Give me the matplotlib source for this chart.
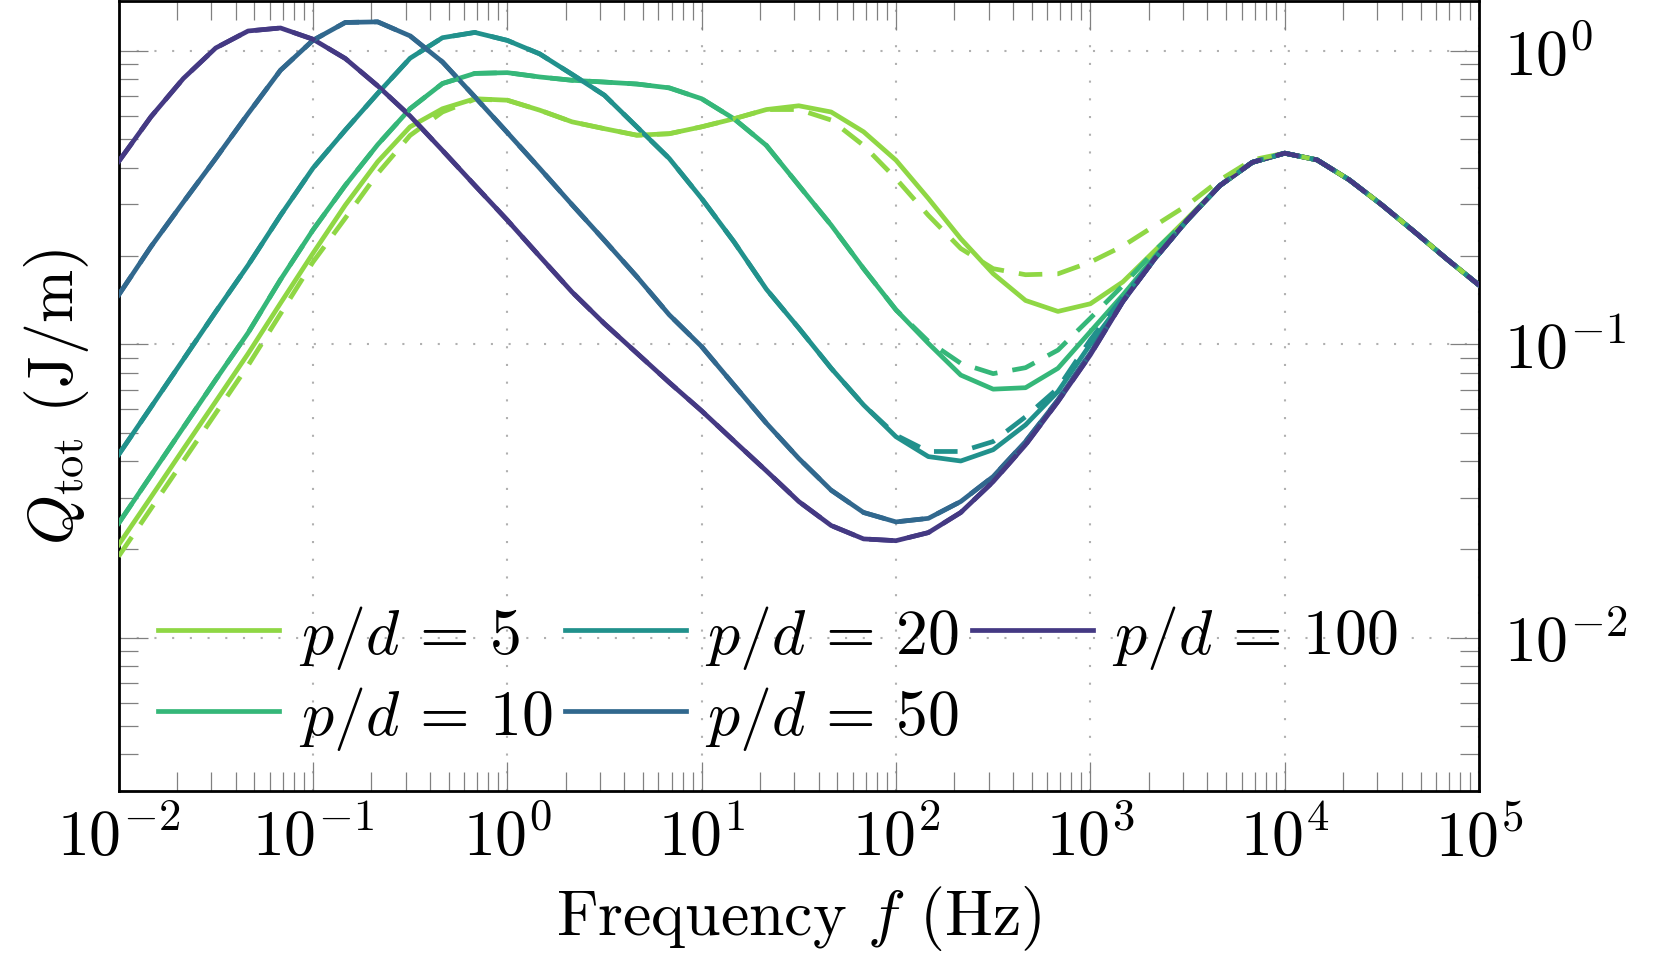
import numpy as np
import matplotlib
matplotlib.use("Agg")
import matplotlib.pyplot as plt
from matplotlib.ticker import LogLocator, NullFormatter

plt.rcParams.update({
    "font.family": "serif",
    "font.serif": ["cmr10"],
    "mathtext.fontset": "cm",
    "axes.formatter.use_mathtext": True,
    "axes.unicode_minus": False,
})

# frequency grid (Hz): 6 samples per decade, 1e-2 .. 1e5
freq = np.logspace(-2, 5, 43)

ratios = ["5", "10", "20", "50", "100"]
colors = ["#8fd744", "#35b779", "#21918c", "#31688e", "#443983"]

# solid curves, Q_tot (J/m)
q5 = [0.0207, 0.0301, 0.0439, 0.0638, 0.0929, 0.138, 0.204, 0.298, 0.419, 0.551,
      0.635, 0.687, 0.679, 0.628, 0.573, 0.543, 0.516, 0.522, 0.551, 0.587,
      0.631, 0.650, 0.619, 0.530, 0.424, 0.314, 0.229, 0.174, 0.141, 0.1294,
      0.1374, 0.163, 0.209, 0.269, 0.3475, 0.417, 0.448, 0.425, 0.363, 0.2985,
      0.242, 0.1954, 0.159]
q10 = [0.0245, 0.0357, 0.0520, 0.0757, 0.1094, 0.166, 0.245, 0.348, 0.479, 0.635,
       0.774, 0.838, 0.843, 0.815, 0.794, 0.783, 0.771, 0.748, 0.687, 0.587,
       0.476, 0.348, 0.2547, 0.181, 0.131, 0.1007, 0.0785, 0.0703, 0.0711, 0.0828,
       0.1104, 0.147, 0.1995, 0.2655, 0.3475, 0.417, 0.448, 0.425, 0.363, 0.2985,
       0.242, 0.1954, 0.159]
q20 = [0.0420, 0.0610, 0.0887, 0.129, 0.186, 0.275, 0.398, 0.537, 0.716, 0.944,
       1.109, 1.156, 1.086, 0.977, 0.832, 0.706, 0.551, 0.430, 0.314, 0.2234,
       0.154, 0.1135, 0.0828, 0.0621, 0.0484, 0.0414, 0.0400, 0.0437, 0.0531, 0.0690,
       0.100, 0.141, 0.1963, 0.2655, 0.3475, 0.417, 0.448, 0.425, 0.363, 0.2985,
       0.242, 0.1954, 0.159]
q50 = [0.147, 0.215, 0.305, 0.430, 0.611, 0.859, 1.086, 1.250, 1.256, 1.125,
       0.917, 0.697, 0.527, 0.398, 0.299, 0.226, 0.170, 0.126, 0.0982, 0.0726,
       0.0538, 0.0408, 0.0318, 0.0267, 0.0248, 0.0255, 0.0291, 0.0354, 0.0466, 0.0646,
       0.0933, 0.140, 0.1963, 0.2655, 0.3475, 0.417, 0.448, 0.425, 0.363, 0.2985,
       0.242, 0.1954, 0.159]
q100 = [0.419, 0.596, 0.805, 1.023, 1.169, 1.197, 1.096, 0.942, 0.760, 0.600,
        0.458, 0.348, 0.265, 0.1995, 0.1507, 0.1175, 0.0933, 0.0741, 0.0593, 0.0468,
        0.0370, 0.0291, 0.0241, 0.0217, 0.0214, 0.0228, 0.0267, 0.0340, 0.0454, 0.0638,
        0.0920, 0.1396, 0.1963, 0.2655, 0.3475, 0.417, 0.448, 0.425, 0.363, 0.2985,
        0.242, 0.1954, 0.159]

# dashed curves (second model), Q_tot (J/m)
q5_dash = [0.0189, 0.0275, 0.0400, 0.0582, 0.0847, 0.127, 0.1905, 0.269, 0.382, 0.515,
           0.619, 0.684, 0.679, 0.628, 0.573, 0.543, 0.516, 0.522, 0.551, 0.587,
           0.631, 0.631, 0.581, 0.476, 0.367, 0.275, 0.212, 0.181, 0.1726, 0.1738,
           0.1905, 0.216, 0.254, 0.2985, 0.363, 0.425, 0.448, 0.425, 0.363, 0.2985,
           0.242, 0.1954, 0.159]
q10_dash = [0.0245, 0.0357, 0.0520, 0.0757, 0.1094, 0.166, 0.245, 0.348, 0.479, 0.635,
            0.774, 0.838, 0.843, 0.815, 0.794, 0.783, 0.771, 0.748, 0.687, 0.587,
            0.476, 0.348, 0.2547, 0.181, 0.131, 0.1023, 0.0861, 0.0794, 0.0832, 0.0955,
            0.1227, 0.1585, 0.209, 0.2655, 0.3475, 0.417, 0.448, 0.425, 0.363, 0.2985,
            0.242, 0.1954, 0.159]
q20_dash = [0.0420, 0.0610, 0.0887, 0.129, 0.186, 0.275, 0.398, 0.537, 0.716, 0.944,
            1.109, 1.156, 1.086, 0.977, 0.832, 0.706, 0.551, 0.430, 0.314, 0.2234,
            0.154, 0.1135, 0.0828, 0.0621, 0.0490, 0.0431, 0.0431, 0.0466, 0.0566, 0.0708,
            0.1035, 0.1445, 0.1963, 0.2655, 0.3475, 0.417, 0.448, 0.425, 0.363, 0.2985,
            0.242, 0.1954, 0.159]
q50_dash = q50
q100_dash = q100

solid = [q5, q10, q20, q50, q100]
dashed = [q5_dash, q10_dash, q20_dash, q50_dash, q100_dash]

FS = 46
LW = 3.4

fig = plt.figure(figsize=(16.6, 9.7), dpi=100)
ax = fig.add_axes([0.0714, 0.1835, 0.8196, 0.8145])

for r, c, q in zip(ratios, colors, solid):
    ax.plot(freq, q, color=c, lw=LW, label=rf"$p/d\,=\,{r}$", zorder=3)
for c, q in zip(colors, dashed):
    ax.plot(freq, q, color=c, lw=LW, dashes=(5, 3.2), zorder=4)

ax.set_xscale("log")
ax.set_yscale("log")
ax.set_xlim(1e-2, 1e5)
ax.set_ylim(3e-3, 1.48)

ax.xaxis.set_major_locator(LogLocator(base=10, numticks=20))
ax.xaxis.set_minor_locator(LogLocator(base=10, subs=np.arange(2, 10), numticks=20))
ax.yaxis.set_major_locator(LogLocator(base=10, numticks=20))
ax.yaxis.set_minor_locator(LogLocator(base=10, subs=np.arange(2, 10), numticks=20))
ax.xaxis.set_minor_formatter(NullFormatter())
ax.yaxis.set_minor_formatter(NullFormatter())

ax.tick_params(which="both", direction="in", top=True, bottom=True, left=True,
               right=True, labelleft=False, labelright=True, labelbottom=True,
               color="#808080", labelsize=FS, width=0.9)
ax.tick_params(which="major", length=21)
ax.tick_params(which="minor", length=14)
ax.tick_params(axis="x", which="major", pad=12)
ax.tick_params(axis="y", which="major", pad=18)

ax.grid(True, which="major", color="#b0b0b0", linestyle=(0, (1, 7.5)), linewidth=1.5)
ax.set_axisbelow(True)
for s in ax.spines.values():
    s.set_linewidth(2.0)

ax.set_xlabel("Frequency $f$ (Hz)", fontsize=FS, labelpad=10)
ax.set_ylabel(r"$Q_{\mathrm{tot}}$ (J/m)", fontsize=FS, labelpad=20)

ax.legend(ncol=3, loc="lower left", bbox_to_anchor=(0.029, 0.05), frameon=False,
          fontsize=FS, handlelength=1.9, handletextpad=0.3, columnspacing=0.2,
          labelspacing=0.2, borderpad=0, borderaxespad=0)

fig.savefig("out.png", dpi=100)
